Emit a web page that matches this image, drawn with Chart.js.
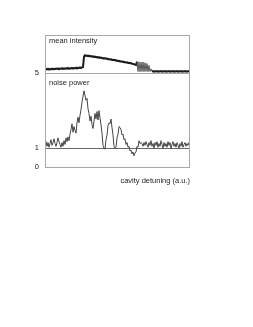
<!DOCTYPE html>
<html>
<head>
<meta charset="utf-8">
<script src="https://cdn.jsdelivr.net/npm/chart.js@4/dist/chart.umd.min.js"></script>
<style>
html,body{margin:0;padding:0;background:#fff;}
#wrap{position:relative;width:253px;height:327px;}
canvas{position:absolute;left:0;top:0;}
</style>
</head>
<body>
<div id="wrap">
<canvas id="top" width="253" height="80"></canvas>
<canvas id="bot" width="253" height="200"></canvas>
</div>
<script>
// ---- data ----
const meanIntensity = [
 0.9,1.05,0.95,1.1,0.9,1.05,1.0,1.15,0.95,1.1,
 1.0,1.15,1.05,1.2,1.0,1.15,1.1,1.25,1.05,1.2,
 1.1,1.25,1.15,1.3,1.1,1.25,1.2,1.35,1.15,1.3,
 1.25,1.4,1.2,1.35,1.3,1.45,1.3,1.5,1.6,
 4.3,4.65,4.5,4.6,4.45,4.55,4.35,4.45,4.3,4.4,
 4.2,4.3,4.15,4.2,4.05,4.15,3.95,4.05,3.9,3.95,
 3.8,3.9,3.75,3.8,3.65,3.7,3.55,3.6,3.45,3.5,
 3.35,3.45,3.25,3.3,3.15,3.2,3.05,3.1,2.95,3.0,
 2.85,2.9,2.75,2.8,2.65,2.7,2.55,2.6,2.45,2.4,
 2.3,2.2,2.1,
 3.0,0.4,2.95,0.35,2.85,0.4,2.9,0.35,2.7,0.4,2.5,0.35,2.0,0.4,1.1,
 0.4,0.5,0.35,0.45,0.4,0.5,0.35,0.45,0.4,0.5,
 0.35,0.45,0.4,0.5,0.35,0.45,0.4,0.5,0.35,0.45,
 0.4,0.5,0.35,0.45,0.4,0.5,0.35,0.45,0.4,0.5,
 0.35,0.45,0.4,0.5,0.35,0.45,0.4,0.5,0.4
];
const noisePower = [
 1.2,1.35,1.1,1.3,1.05,1.25,1.45,1.15,1.3,1.5,1.25,1.1,1.3,1.55,1.35,1.2,1.05,1.3,1.1,1.4,1.2,1.55,1.35,
 1.6,1.4,1.75,2.0,2.3,1.85,2.15,1.95,1.8,2.35,2.65,2.35,2.75,3.05,3.45,3.75,
 4.05,3.8,3.55,3.65,
 3.1,2.85,2.45,2.7,2.25,
 2.05,2.45,2.85,
 2.55,2.95,2.5,3.0,2.6,2.25,
 1.8,1.15,1.0,
 0.95,1.45,1.7,
 2.2,2.35,2.3,2.55,2.1,
 1.7,1.1,1.0,
 1.05,1.55,1.75,2.15,2.1,
 2.0,1.7,1.75,1.45,
 1.5,1.2,1.3,1.05,1.1,
 0.85,0.9,0.7,0.8,0.6,0.75,0.8,
 1.1,1.05,1.4,1.25,1.3,
 1.25,1.1,1.3,1.15,1.35,1.2,1.05,1.3,1.15,1.4,
 1.1,1.25,1.0,1.3,1.15,1.35,1.05,1.25,1.1,1.4,
 1.2,1.0,1.3,1.1,1.25,1.05,1.35,1.15,1.3,1.0,
 1.2,1.35,1.1,1.25,1.05,1.3,1.15,1.0,1.25,1.1,
 1.35,1.05,1.2,1.3,1.1,1.25,1.15,1.3,1.2
];
const noiseTicks = [0, 1, 5];
const referenceLevel = 1;
const titleTop = 'mean intensity';
const titleBottom = 'noise power';
const xLabel = 'cavity detuning (a.u.)';

const FONT = '"Liberation Sans", Arial, sans-serif';
const toPts = arr => arr.map((v, i) => ({x: i, y: v}));

const frame = {
  id: 'frame',
  afterDraw(chart, args, opts) {
    const {ctx, chartArea: a} = chart;
    ctx.save();
    ctx.strokeStyle = '#a8a8a8';
    ctx.lineWidth = 1;
    ctx.strokeRect(Math.round(a.left) + 0.5, Math.round(a.top) + 0.5,
                   Math.round(a.right - a.left) - 1, Math.round(a.bottom - a.top));
    ctx.fillStyle = '#222';
    ctx.font = '7.5px ' + FONT;
    ctx.textBaseline = 'middle';
    (opts.labels || []).forEach(l => {
      ctx.textAlign = l.align;
      ctx.fillText(l.text, l.x, l.y);
    });
    ctx.restore();
  }
};

new Chart(document.getElementById('top'), {
  type: 'line',
  data: { datasets: [{ data: toPts(meanIntensity), borderColor: '#1a1a1a', borderWidth: 2,
    pointRadius: 0, tension: 0,
    segment: { borderWidth: c => (c.p0.parsed.x >= 92 && c.p0.parsed.x < 107) ? 1 : 2,
               borderColor: c => (c.p0.parsed.x >= 92 && c.p0.parsed.x < 107) ? '#555' : '#1a1a1a' } }] },
  options: {
    responsive: false, animation: false,
    layout: { padding: { left: 45, top: 35, right: 63, bottom: 7 } },
    plugins: { legend: { display: false }, tooltip: { enabled: false },
      frame: { labels: [{ text: titleTop, x: 49, y: 41, align: 'left' }] } },
    scales: {
      x: { type: 'linear', min: 0, max: meanIntensity.length - 1, display: false },
      y: { min: 0, max: 10, display: false }
    }
  },
  plugins: [frame]
});

new Chart(document.getElementById('bot'), {
  type: 'line',
  data: { datasets: [{ data: toPts(noisePower), borderColor: '#444', borderWidth: 1,
    pointRadius: 0, tension: 0 }] },
  options: {
    responsive: false, animation: false,
    layout: { padding: { left: 0, top: 73, right: 63, bottom: 33 } },
    plugins: { legend: { display: false }, tooltip: { enabled: false },
      frame: { labels: [
        { text: titleBottom, x: 49, y: 83, align: 'left' },
        { text: xLabel, x: 190, y: 181, align: 'right' }
      ] } },
    scales: {
      x: { type: 'linear', min: 0, max: noisePower.length - 1, display: false },
      y: {
        min: 0, max: 5,
        afterBuildTicks: ax => { ax.ticks = noiseTicks.map(v => ({ value: v })); },
        afterFit: ax => { ax.width = 45; },
        border: { display: false },
        grid: { drawTicks: false,
          color: c => (c.tick && c.tick.value === referenceLevel) ? '#666' : 'rgba(0,0,0,0)',
          lineWidth: 1 },
        ticks: { padding: 6, color: '#222', font: { family: FONT, size: 7.5 } }
      }
    }
  },
  plugins: [frame]
});
</script>
</body>
</html>
